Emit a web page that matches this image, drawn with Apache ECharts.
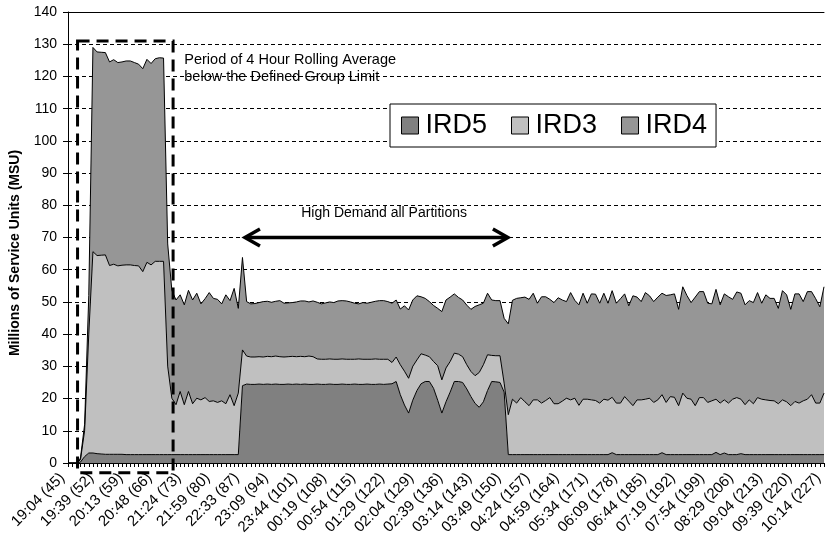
<!DOCTYPE html>
<html>
<head>
<meta charset="utf-8">
<script src="https://cdn.jsdelivr.net/npm/echarts@6/dist/echarts.min.js"></script>
<style>
  html, body { margin: 0; padding: 0; background: #fff; }
  #chart { width: 829px; height: 541px; }
</style>
</head>
<body>
<div id="chart"></div>
<script>
// Sample numbers 45..227, one per 5-minute interval
const firstSample = 45;
const sampleCount = 183;

// Labelled samples on the category axis (every 7th)
const tickSamples = [45, 52, 59, 66, 73, 80, 87, 94, 101, 108, 115, 122, 129, 136,
  143, 150, 157, 164, 171, 178, 185, 192, 199, 206, 213, 220, 227];
const tickClock = ['19:04', '19:39', '20:13', '20:48', '21:24', '21:59', '22:33', '23:09',
  '23:44', '00:19', '00:54', '01:29', '02:04', '02:39', '03:14', '03:49', '04:24', '04:59',
  '05:34', '06:09', '06:44', '07:19', '07:54', '08:29', '09:04', '09:39', '10:14'];

// MSU consumption per partition (millions of service units)
const ird5 = [
  0, 0, 0, 0.3, 2.0, 3.1, 3.1, 2.9, 2.8, 2.7,
  2.7, 2.7, 2.7, 2.7, 2.6, 2.6, 2.6, 2.6, 2.6, 2.6,
  2.6, 2.6, 2.6, 2.6, 2.6, 2.6, 2.6, 2.6, 2.6, 2.6,
  2.6, 2.6, 2.6, 2.6, 2.6, 2.6, 2.6, 2.6, 2.6, 2.6,
  2.6, 2.6, 24.0, 24.5, 24.4, 24.4, 24.5, 24.4, 24.5, 24.4,
  24.5, 24.4, 24.4, 24.5, 24.4, 24.5, 24.4, 24.5, 24.4, 24.4,
  24.5, 24.4, 24.4, 24.5, 24.4, 24.4, 24.5, 24.4, 24.4, 24.5,
  24.4, 24.4, 24.5, 24.4, 24.4, 24.5, 24.4, 24.5, 24.6, 25.3,
  21.2, 18.0, 15.5, 19.5, 22.5, 24.6, 25.3, 25.3, 23.2, 19.5,
  15.5, 19.0, 22.0, 25.3, 25.3, 25.0, 23.0, 20.6, 18.5, 17.3,
  19.0, 22.5, 25.3, 25.2, 25.0, 22.0, 2.6, 2.6, 2.6, 2.6,
  2.6, 2.6, 2.6, 2.6, 2.6, 2.6, 2.6, 2.6, 2.6, 2.6,
  2.6, 2.6, 2.6, 2.6, 2.6, 2.6, 2.6, 2.6, 2.6, 2.6,
  2.6, 3.2, 2.6, 2.6, 2.6, 2.6, 2.6, 2.6, 2.6, 2.6,
  2.6, 2.6, 2.6, 3.2, 2.6, 2.6, 2.6, 2.6, 2.6, 2.6,
  2.6, 2.6, 2.6, 2.6, 2.6, 2.6, 3.3, 2.6, 3.1, 2.6,
  2.6, 2.6, 2.9, 2.6, 2.6, 2.6, 2.6, 2.6, 2.6, 2.6,
  2.6, 2.6, 2.6, 2.6, 2.6, 2.6, 2.6, 2.6, 2.6, 2.6,
  2.6, 2.6, 2.6
];
const ird3 = [
  0, 0, 0, 0.7, 8.0, 36.9, 62.5, 61.5, 61.7, 61.9,
  58.6, 59.0, 58.5, 58.7, 58.9, 58.9, 58.7, 58.6, 56.8, 59.7,
  58.9, 60.0, 60.0, 60.0, 27.4, 17.5, 15.5, 19.6, 15.5, 19.6,
  15.8, 17.5, 17.0, 17.7, 16.5, 16.7, 16.2, 16.7, 15.8, 18.6,
  15.2, 19.1, 11.1, 8.7, 8.5, 8.5, 8.5, 8.5, 8.6, 8.6,
  8.7, 8.6, 8.5, 8.5, 8.7, 8.5, 8.7, 8.5, 8.8, 8.6,
  7.8, 7.8, 7.8, 7.8, 7.8, 7.8, 7.8, 7.8, 7.8, 7.7,
  7.9, 7.8, 7.7, 7.8, 7.9, 7.7, 7.8, 7.7, 6.6, 7.6,
  9.3, 10.5, 10.8, 10.5, 9.5, 9.3, 8.2, 7.7, 8.3, 10.7,
  10.3, 10.5, 9.5, 8.8, 8.5, 8.0, 7.5, 7.8, 8.6, 10.8,
  11.5, 11.1, 8.1, 8.1, 8.3, 2.8, 12.4, 17.2, 16.0, 17.7,
  16.4, 15.2, 17.0, 17.0, 16.0, 16.8, 17.7, 15.8, 15.8, 16.6,
  17.5, 17.0, 17.5, 15.3, 17.2, 17.2, 17.0, 16.8, 16.0, 17.2,
  16.9, 17.2, 16.0, 16.0, 18.0, 16.6, 15.2, 17.0, 17.0, 17.2,
  17.5, 16.2, 17.0, 18.0, 16.2, 18.0, 17.8, 15.2, 19.1, 17.5,
  17.2, 15.2, 17.7, 17.7, 16.2, 16.7, 16.5, 16.0, 16.5, 16.0,
  17.2, 17.7, 16.9, 15.5, 17.0, 15.8, 17.7, 17.2, 17.0, 16.8,
  16.7, 15.8, 17.0, 16.4, 15.2, 16.5, 16.0, 16.7, 17.2, 18.6,
  16.0, 16.0, 19.1
];
const ird4 = [
  0, 0, 0, 0.5, 2.0, 12.0, 63.4, 63.2, 63.0, 62.8,
  63.2, 63.5, 63.1, 63.1, 63.3, 63.3, 63.0, 62.6, 63.0, 63.0,
  62.5, 62.9, 63.2, 63.1, 38.0, 33.5, 32.5, 30.0, 31.0, 31.4,
  32.2, 32.6, 29.8, 30.7, 33.8, 31.8, 32.0, 30.1, 33.8, 29.2,
  36.4, 26.3, 28.7, 16.9, 16.5, 16.6, 16.8, 17.2, 17.1, 16.9,
  17.0, 17.4, 16.7, 16.7, 16.7, 17.0, 17.2, 17.3, 16.8, 17.3,
  17.6, 17.2, 17.5, 17.7, 17.6, 18.1, 18.1, 18.1, 17.8, 17.4,
  17.1, 17.6, 17.4, 17.7, 17.9, 18.2, 18.2, 17.9, 18.4, 17.7,
  17.3, 20.3, 21.2, 20.6, 19.9, 17.7, 17.6, 17.1, 17.4, 17.8,
  21.2, 21.1, 20.0, 18.4, 17.6, 17.6, 18.5, 19.3, 21.5, 21.0,
  19.1, 19.1, 17.2, 17.1, 17.1, 20.1, 28.2, 30.7, 32.5, 31.0,
  32.5, 33.0, 33.1, 30.0, 33.0, 32.2, 30.5, 31.4, 32.9, 31.4,
  30.0, 33.3, 30.4, 31.2, 32.9, 29.8, 32.9, 33.0, 31.0, 32.9,
  30.1, 33.1, 31.0, 32.4, 31.9, 29.6, 34.1, 31.9, 30.5, 33.1,
  31.8, 31.3, 31.9, 31.5, 33.2, 31.6, 32.1, 29.9, 33.0, 31.9,
  30.0, 33.7, 32.9, 32.9, 30.8, 30.1, 34.1, 30.5, 32.9, 33.0,
  31.0, 32.8, 32.9, 31.0, 30.8, 31.4, 32.6, 29.8, 32.6, 31.7,
  31.8, 29.6, 33.9, 33.2, 29.9, 33.4, 33.9, 30.8, 33.4, 32.0,
  32.4, 29.9, 33.0
];

const samples = Array.from({ length: sampleCount }, (_, k) => String(firstSample + k));
const lastIndex = sampleCount - 1;

const FONT = '"Liberation Sans", Arial, sans-serif';
const fills = { IRD5: '#808080', IRD3: '#c0c0c0', IRD4: '#969696' };

function areaSeries(name, data) {
  return {
    name, type: 'line', stack: 'msu', data,
    symbol: 'none', showSymbol: false, smooth: false,
    lineStyle: { color: '#000', width: 1 },
    itemStyle: { color: fills[name], borderColor: '#000', borderWidth: 1 },
    areaStyle: { color: fills[name], opacity: 1 },
    emphasis: { disabled: true },
    animation: false
  };
}

const chart = echarts.init(document.getElementById('chart'), null, { renderer: 'canvas' });

chart.setOption({
  animation: false,
  backgroundColor: '#fff',
  textStyle: { fontFamily: FONT },
  grid: { left: 68, right: 5, top: 12, bottom: 78, containLabel: false },
  legend: {
    data: ['IRD5', 'IRD3', 'IRD4'],
    left: 390, top: 104,
    orient: 'horizontal',
    icon: 'rect',
    itemWidth: 17, itemHeight: 17, itemGap: 24,
    padding: [8, 9, 8, 11],
    backgroundColor: '#fff',
    borderColor: '#000', borderWidth: 1, borderRadius: 0,
    itemStyle: { borderColor: '#000', borderWidth: 1 },
    lineStyle: { width: 0 },
    textStyle: { fontFamily: FONT, fontSize: 27, color: '#000', padding: [0, 0, 0, 2] },
    selectedMode: false
  },
  xAxis: [
    {
      type: 'category',
      data: samples,
      boundaryGap: false,
      z: 10,
      axisLine: { show: true, lineStyle: { color: '#000', width: 1 } },
      axisTick: { show: true, interval: 0, length: 4, inside: false, lineStyle: { color: '#000', width: 1 } },
      axisLabel: {
        interval: 6, rotate: 45, margin: 7,
        padding: [0, 8, 0, 0],
        color: '#000', fontFamily: FONT, fontSize: 15,
        formatter: (v) => {
          const k = tickSamples.indexOf(Number(v));
          return k >= 0 ? tickClock[k] + ' (' + v + ')' : '';
        }
      },
      splitLine: { show: false }
    },
    {
      // plain top edge of the plot area
      type: 'category',
      data: samples,
      boundaryGap: false,
      position: 'top',
      axisLine: { show: true, lineStyle: { color: '#000', width: 1 } },
      axisTick: { show: false },
      axisLabel: { show: false },
      splitLine: { show: false }
    }
  ],
  yAxis: {
    type: 'value',
    min: 0, max: 140, interval: 10,
    axisLine: { show: true, lineStyle: { color: '#000', width: 1 } },
    axisTick: { show: true, length: 5, lineStyle: { color: '#000', width: 1 } },
    axisLabel: { color: '#000', fontFamily: FONT, fontSize: 14, margin: 11 },
    splitLine: { show: true, lineStyle: { color: '#000', width: 1, type: [4, 3] } }
  },
  series: [
    areaSeries('IRD5', ird5),
    areaSeries('IRD3', ird3),
    areaSeries('IRD4', ird4)
  ]
});

// Pixel position of a (fractional) sample index and an MSU value
function at(idx, val) {
  const a = chart.convertToPixel({ gridIndex: 0 }, [0, val]);
  const b = chart.convertToPixel({ gridIndex: 0 }, [lastIndex, val]);
  return [a[0] + (b[0] - a[0]) * idx / lastIndex, a[1]];
}

function drawNotes() {
  const boxA = at(2.3, 131);
  const boxB = at(25.3, -3);
  const arrL = at(42.6, 70);
  const arrR = at(105.9, 70);
  const period = at(28, 122.5);
  const demand = at(76.1, 77.6);
  const head = 15, wing = 8.5;

  chart.setOption({
    graphic: [
      {
        type: 'rect', z: 100, silent: true,
        shape: { x: boxA[0], y: boxA[1], width: boxB[0] - boxA[0], height: boxB[1] - boxA[1] },
        style: { fill: 'none', stroke: '#000', lineWidth: 3, lineDash: [12, 7] }
      },
      {
        type: 'text', z: 100, silent: true,
        x: period[0], y: period[1],
        style: {
          text: 'Period of 4 Hour Rolling Average\nbelow the Defined Group Limit',
          fill: '#000', font: '14.5px ' + FONT, lineHeight: 17,
          align: 'left', verticalAlign: 'middle'
        }
      },
      {
        type: 'text', z: 100, silent: true,
        x: demand[0], y: demand[1],
        style: {
          text: 'High Demand all Partitions',
          fill: '#000', font: '14px ' + FONT,
          align: 'center', verticalAlign: 'middle'
        }
      },
      {
        type: 'line', z: 100, silent: true,
        shape: { x1: arrL[0] + 2, y1: arrL[1], x2: arrR[0] - 2, y2: arrR[1] },
        style: { stroke: '#000', lineWidth: 3.5 }
      },
      {
        type: 'polyline', z: 100, silent: true,
        shape: { points: [[arrL[0] + head, arrL[1] - wing], [arrL[0], arrL[1]], [arrL[0] + head, arrL[1] + wing]] },
        style: { stroke: '#000', fill: 'none', lineWidth: 3.5, lineJoin: 'miter' }
      },
      {
        type: 'polyline', z: 100, silent: true,
        shape: { points: [[arrR[0] - head, arrR[1] - wing], [arrR[0], arrR[1]], [arrR[0] - head, arrR[1] + wing]] },
        style: { stroke: '#000', fill: 'none', lineWidth: 3.5, lineJoin: 'miter' }
      },
      {
        type: 'text', z: 100, silent: true,
        x: 15, y: 253, rotation: Math.PI / 2,
        style: {
          text: 'Millions of Service Units (MSU)',
          fill: '#000', font: 'bold 14px ' + FONT,
          align: 'center', verticalAlign: 'middle'
        }
      }
    ]
  });
}

drawNotes();
</script>
</body>
</html>
